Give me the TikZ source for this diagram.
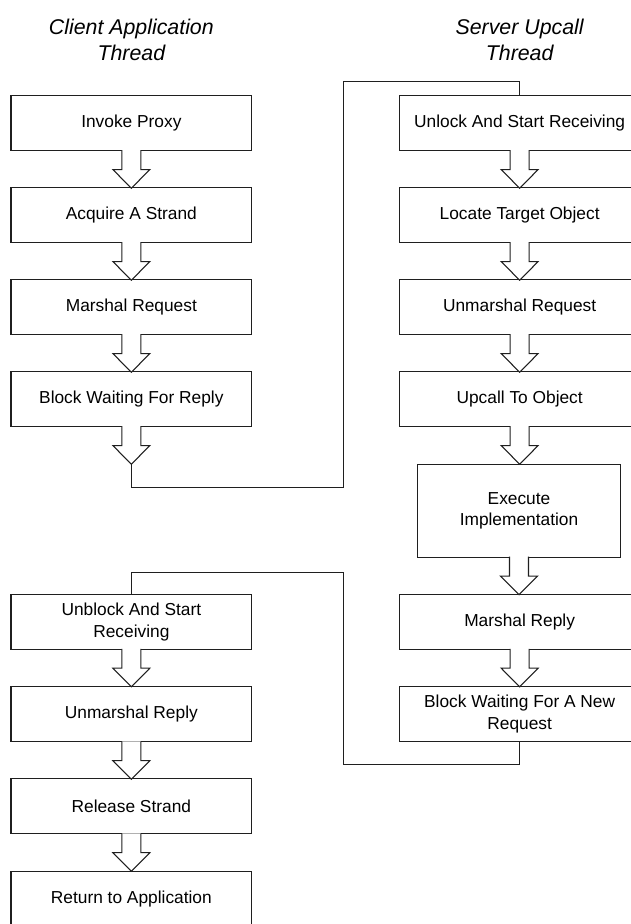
\documentclass[tikz,border=0pt]{standalone}
\usepackage{fontspec}
\setmainfont{Liberation Sans}
\usetikzlibrary{calc}

% Hollow block arrow hanging below a node; its tip lands 37 units lower.
\newcommand\hollowdown[1]{%
  \draw[line,fill=white]
    ($(#1.south)+(-9.5,-1)$) -- ($(#1.south)+(-9.5,18.3)$)
    -- ($(#1.south)+(-18.5,18.3)$) -- ($(#1.south)+(0,37)$)
    -- ($(#1.south)+(18.5,18.3)$) -- ($(#1.south)+(9.5,18.3)$)
    -- ($(#1.south)+(9.5,-1)$);}

\begin{document}
\begin{tikzpicture}[x=0.75pt,y=-0.75pt,
  line/.style={draw=black!88, line width=0.8pt, line join=miter},
  stepbox/.style={line, fill=white, minimum width=180.5pt, minimum height=41.25pt,
    inner sep=0pt, align=center, font=\fontsize{13}{16.3}\selectfont},
  bigbox/.style={stepbox, minimum width=152.55pt, minimum height=69.75pt},
  title/.style={align=center, font=\fontsize{16}{19.5}\selectfont\itshape}]

\useasboundingbox (0,0) rectangle (631,924);
\clip (0,0) rectangle (631,924);

% column headings
\node[title] (tclient) at (131.35,40) {Client Application\\Thread};
\node[title] (tserver) at (519.65,40) {Server Upcall\\Thread};

% client side, before the reply
\node[stepbox] (invoke)  at (131.35,123.2) {Invoke Proxy};
\node[stepbox] (acquire) at (131.35,215.2) {Acquire A Strand};
\node[stepbox] (marshq)  at (131.35,307.2) {Marshal Request};
\node[stepbox] (blockc)  at (131.35,399.2) {Block Waiting For Reply};

% server side
\node[stepbox] (unlock)  at (519.65,123.2) {Unlock And Start Receiving};
\node[stepbox] (locate)  at (519.65,215.2) {Locate Target Object};
\node[stepbox] (unmarq)  at (519.65,307.2) {Unmarshal Request};
\node[stepbox] (upcall)  at (519.65,399.2) {Upcall To Object};
\node[bigbox]  (execute) at (519.00,510.7) {Execute\\Implementation};
\node[stepbox] (marshr)  at (519.65,621.8) {Marshal Reply};
\node[stepbox] (blocks)  at (519.65,714.3) {Block Waiting For A New\\Request};

% client side, after the reply
\node[stepbox] (unblock) at (131.35,621.8) {Unblock And Start\\Receiving};
\node[stepbox] (unmarr)  at (131.35,714.3) {Unmarshal Reply};
\node[stepbox] (release) at (131.35,806.3) {Release Strand};
\node[stepbox] (return)  at (131.35,898.8) {Return to Application};

% hollow arrows between consecutive steps
\foreach \n in {invoke,acquire,marshq,blockc,unlock,locate,unmarq,upcall,execute,marshr,unblock,unmarr,release}
  {\hollowdown{\n}}

% hand-over lines between the two threads
\coordinate (tipc)  at ($(blockc.south)+(0,37)$);
\coordinate (jumpA) at (343.5,81.7);
\coordinate (jumpB) at (343.5,572.7);
\draw[line] (tipc) -- ++(0,23) -| (jumpA) -| (unlock.north);
\draw[line] (blocks.south) -- ++(0,22) -| (jumpB) -| (unblock.north);

\end{tikzpicture}
\end{document}
